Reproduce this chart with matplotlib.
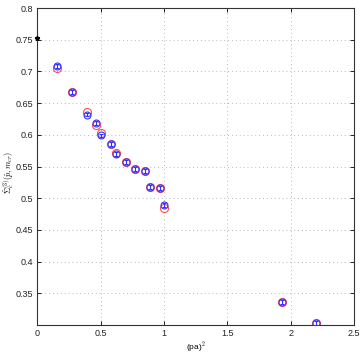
import matplotlib
matplotlib.use("Agg")
import matplotlib.pyplot as plt
import numpy as np

plt.rcParams['font.family'] = ['Liberation Sans', 'DejaVu Sans']
plt.rcParams['mathtext.fontset'] = 'cm'

x = [0.158, 0.272, 0.390, 0.466, 0.503, 0.579, 0.621, 0.698, 0.773, 0.850, 0.889, 0.967, 1.0, 1.929, 2.20]
y_blue = [0.7085, 0.668, 0.632, 0.618, 0.599, 0.586, 0.5693, 0.557, 0.546, 0.543, 0.518, 0.5165, 0.489, 0.3368, 0.3036]
y_red = [0.705, 0.668, 0.6355, 0.6155, 0.603, 0.586, 0.571, 0.557, 0.546, 0.543, 0.518, 0.5165, 0.485, 0.3368, 0.3036]
err_blue = [0.003] * len(x)
star_x = [0.0]
star_y = [0.753]

xticks = [0, 0.5, 1, 1.5, 2, 2.5]
xticklabels = ['0', '0.5', '1', '1.5', '2', '2.5']
yticks = [0.35, 0.4, 0.45, 0.5, 0.55, 0.6, 0.65, 0.7, 0.75, 0.8]
yticklabels = ['0.35', '0.4', '0.45', '0.5', '0.55', '0.6', '0.65', '0.7', '0.75', '0.8']

fig = plt.figure(figsize=(3.64, 3.54), dpi=100)
W, H = 364, 354
ax = fig.add_axes([37.3 / W, 1 - 324.7 / H, (354 - 37.3) / W, (324.7 - 8) / H])

ax.errorbar(x, y_blue, yerr=err_blue, fmt='o', color='#3030ff', mfc='none', mec='#3030ff',
            ms=5, mew=0.8, elinewidth=0.8, capsize=1.5, capthick=0.8, zorder=3)
ax.plot(x, y_red, 'o', mfc='none', mec='#ff3030', ms=5.8, mew=0.8, alpha=0.85, zorder=2)
ax.plot(star_x, star_y, '*', color='black', ms=3.5, zorder=4, clip_on=False)

ax.set_xlim(0, 2.5)
ax.set_ylim(0.3005, 0.8)
ax.set_xticks(xticks)
ax.set_xticklabels(xticklabels)
ax.set_yticks(yticks)
ax.set_yticklabels(yticklabels)
ax.tick_params(direction='in', labelsize=6.5, length=3, width=0.6, top=True, right=True,
               labelcolor='#222222', pad=3)
ax.grid(True, linestyle=(0, (1, 3)), color='#b8b8b8', linewidth=0.7)
for s in ax.spines.values():
    s.set_linewidth(0.8)
    s.set_color('#333333')

ax.set_xlabel('(pa)$^2$', fontsize=6, labelpad=1)
ax.set_ylabel(r'$\hat{\Sigma}_c^{(3)}(\hat{p},m_{cr})$', fontsize=6)
ax.yaxis.set_label_coords(-0.068, 0.48)

fig.savefig('out.png', dpi=100)
